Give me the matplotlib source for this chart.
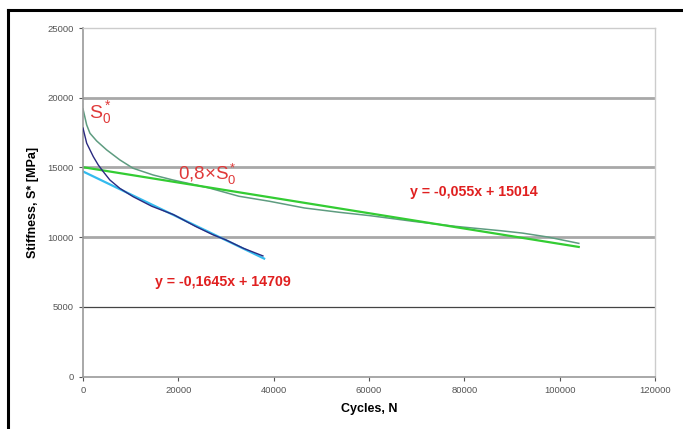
import numpy as np
from matplotlib import pyplot as plt
from matplotlib.lines import Line2D

plt.rcParams['font.family'] = ['Liberation Sans', 'DejaVu Sans']
plt.rcParams['mathtext.fontset'] = 'custom'
plt.rcParams['mathtext.rm'] = 'Liberation Sans'
plt.rcParams['mathtext.it'] = 'Liberation Sans:italic'
plt.rcParams['mathtext.bf'] = 'Liberation Sans:bold'

cyc_a = [0, 770, 1460, 2150, 3190, 4240, 5630, 7720, 10500, 14440, 19010,
         23580, 27240, 29980, 33640, 37750]
stiff_a = [17820, 16740, 16260, 15780, 15180, 14700, 14100, 13500, 12900,
           12210, 11610, 10770, 10170, 9800, 9200, 8650]

cyc_b = [0, 400, 770, 1460, 2860, 4950, 7720, 10500, 14670, 18840, 26330, 32720,
         39120, 46440, 53750, 60150, 69290, 78150, 87570, 92140, 97620, 104020]
stiff_b = [19190, 18600, 18050, 17450, 16900, 16260, 15540, 14940, 14460, 14100,
           13535, 12930, 12570, 12090, 11780, 11540, 11130, 10770, 10460,
           10290, 10000, 9550]

# linear trend lines (slope, intercept, x-range)
fit_a = (-0.1645, 14709, [0, 38000])
fit_b = (-0.055, 15014, [0, 104000])

xticks = [0, 20000, 40000, 60000, 80000, 100000, 120000]
yticks = [0, 5000, 10000, 15000, 20000, 25000]

fig = plt.figure(figsize=(6.83, 4.29), dpi=100)
ax = fig.add_axes([83/683, 1-376.5/429, (655-83)/683, (376.5-28)/429])

# gridlines like the excel chart
for v in [10000, 15000, 20000]:
    ax.axhline(v, color='#a8a8a8', lw=2.0, zorder=1)
ax.axhline(5000, color='#444444', lw=0.9, zorder=1)

ax.plot(cyc_b, stiff_b, color='#5e9c80', lw=1.1, zorder=2)
ax.plot(cyc_a, stiff_a, color='#2a2a80', lw=1.0, zorder=3)

xb = np.array(fit_b[2])
ax.plot(xb, fit_b[0]*xb + fit_b[1], color='#33cc33', lw=1.6, zorder=2.5)
xa = np.array(fit_a[2])
ax.plot(xa, fit_a[0]*xa + fit_a[1], color='#33bbee', lw=1.6, zorder=2.5)

ax.set_xlim(0, 120000)
ax.set_ylim(0, 25000)
ax.set_xticks(xticks)
ax.set_yticks(yticks)
ax.tick_params(colors='#555555', labelsize=6.8, length=3, width=0.8)
for s in ['left', 'bottom']:
    ax.spines[s].set_color('#999999')
    ax.spines[s].set_linewidth(1.2)
for s in ['top', 'right']:
    ax.spines[s].set_color('#cccccc')
    ax.spines[s].set_linewidth(1.0)

ax.set_xlabel('Cycles, N', fontsize=9, fontweight='bold', labelpad=6)
ax.set_ylabel('Stiffness, S* [MPa]', fontsize=9, fontweight='bold', labelpad=6)

red = '#e03a3a'
ax.text(1200, 18900, r'$\mathrm{S}_0^*$', color=red, fontsize=14,
        ha='left', va='center')
ax.text(20000, 14500, r'$\mathrm{0{,}8{\times}S}_0^*$', color=red,
        fontsize=13.5, ha='left', va='center')
ax.text(82000, 13200, 'y = -0,055x + 15014', color='#e02020', fontsize=10.2,
        fontweight='bold', ha='center', va='center')
ax.text(29300, 6750, 'y = -0,1645x + 14709', color='#e02020', fontsize=10.2,
        fontweight='bold', ha='center', va='center')

# black frame (top and left edges of the cropped screenshot)
fig.add_artist(Line2D([8/683, 8/683], [0, 1-10/429], color='black', lw=2.2))
fig.add_artist(Line2D([8/683, 1], [1-10/429, 1-10/429], color='black', lw=2.2))

fig.savefig('out.png', dpi=100)
